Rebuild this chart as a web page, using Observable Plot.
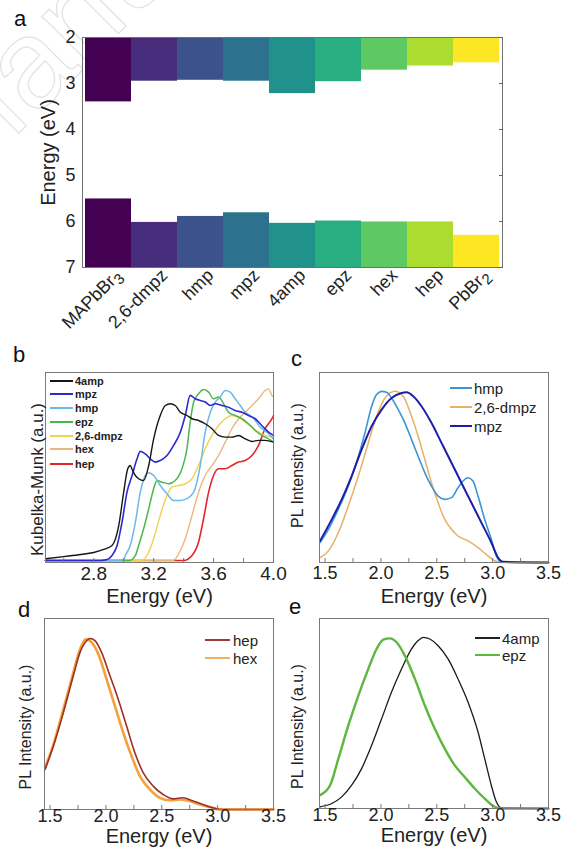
<!DOCTYPE html>
<html><head><meta charset="utf-8">
<script src="https://cdn.jsdelivr.net/npm/d3@7"></script>
<script src="https://cdn.jsdelivr.net/npm/@observablehq/plot@0.6"></script>
<style>
body{margin:0;background:#fff;font-family:Arial,"Liberation Sans",sans-serif;}
#root{position:relative;width:561px;height:853px;overflow:hidden;background:#fff;}
.pl{position:absolute;}
.lab{position:absolute;font-size:22px;color:#111;line-height:1;}
.row{position:absolute;white-space:nowrap;display:flex;align-items:center;color:#222;line-height:1;}
</style></head><body><div id="root"></div><script>
// ---------- Panel a: band edges ----------
const categories = ["MAPbBr₃","2,6-dmpz","hmp","mpz","4amp","epz","hex","hep","PbBr₂"];
const cbm = [3.40,2.95,2.93,2.95,3.22,2.96,2.71,2.62,2.55];
const vbm = [5.51,6.02,5.89,5.81,6.04,5.99,6.01,6.01,6.30];
const energyTicks = [2,3,4,5,6,7];

// ---------- Panel b: Kubelka-Munk (normalised a.u.) [eV, value] ----------
const km4amp = [[2.478,1.0],[2.6,2.2],[2.7,3.3],[2.8,4.6],[2.867,6.4],[2.922,8.7],[2.967,20.3],[3.0,39.7],[3.027,53.3],[3.044,55.2],[3.056,53.0],[3.078,49.4],[3.1,47.5],[3.133,46.5],[3.167,55.2],[3.2,70.7],[3.244,84.3],[3.278,90.1],[3.311,91.1],[3.344,90.1],[3.378,86.2],[3.422,84.3],[3.456,82.4],[3.5,81.4],[3.544,79.5],[3.589,76.6],[3.633,72.7],[3.678,71.7],[3.722,71.7],[3.767,72.7],[3.811,70.7],[3.856,69.2],[3.9,69.8],[3.944,69.8],[4.0,68.8]];
const kmMpz = [[2.478,0],[2.85,0],[2.889,0.5],[2.922,2.9],[2.956,8.7],[2.989,22.3],[3.022,39.7],[3.056,49.4],[3.089,59.1],[3.111,63.4],[3.144,62.0],[3.178,59.1],[3.211,57.2],[3.244,58.1],[3.289,61.0],[3.333,66.9],[3.378,74.6],[3.411,84.3],[3.444,96.0],[3.478,94.0],[3.511,93.0],[3.544,92.1],[3.578,90.1],[3.611,91.1],[3.656,90.1],[3.7,89.1],[3.744,87.2],[3.789,86.2],[3.833,84.3],[3.878,82.4],[3.922,78.5],[3.967,74.6],[4.0,72.7]];
const kmHmp = [[2.478,0],[2.95,0],[3.0,0.5],[3.011,2.9],[3.044,8.7],[3.078,22.3],[3.111,39.7],[3.144,49.4],[3.167,51.0],[3.2,49.4],[3.244,43.6],[3.289,38.8],[3.333,34.9],[3.378,34.9],[3.422,35.9],[3.467,39.7],[3.511,55.2],[3.544,74.6],[3.578,86.2],[3.611,92.1],[3.644,95.0],[3.678,98.8],[3.711,97.9],[3.744,94.0],[3.778,90.1],[3.811,86.2],[3.844,84.3],[3.878,81.4],[3.911,77.5],[3.956,74.6],[4.0,70.7]];
const kmEpz = [[2.478,0],[3.04,0],[3.078,2.9],[3.1,8.7],[3.133,18.4],[3.167,30.0],[3.2,41.7],[3.222,46.5],[3.256,45.5],[3.3,44.6],[3.344,46.5],[3.389,53.3],[3.422,64.9],[3.444,80.4],[3.467,92.1],[3.5,96.9],[3.533,99.4],[3.567,97.9],[3.6,94.0],[3.633,95.0],[3.667,91.1],[3.7,86.2],[3.744,84.3],[3.789,82.4],[3.833,79.5],[3.878,75.6],[3.922,72.7],[3.967,70.7],[4.0,68.8]];
const kmDmpz = [[2.478,0],[3.12,0],[3.156,2.9],[3.2,12.6],[3.244,26.2],[3.289,37.8],[3.322,42.6],[3.367,43.6],[3.411,44.6],[3.456,47.5],[3.5,55.2],[3.544,64.9],[3.589,72.7],[3.633,78.5],[3.678,82.4],[3.722,84.3],[3.767,83.3],[3.811,80.4],[3.856,77.5],[3.9,74.6],[3.944,72.7],[4.0,71.7]];
const kmHex = [[2.478,0],[3.33,0],[3.367,3.9],[3.411,12.6],[3.456,26.2],[3.5,39.7],[3.544,49.4],[3.589,55.2],[3.633,61.0],[3.678,68.8],[3.722,76.6],[3.767,82.4],[3.811,86.2],[3.856,90.1],[3.9,94.0],[3.944,98.8],[3.967,99.8],[3.989,96.0],[4.0,95.0]];
const kmHep = [[2.478,0],[3.4,0],[3.456,2.9],[3.5,10.7],[3.533,24.2],[3.567,39.7],[3.6,49.4],[3.633,53.3],[3.678,53.3],[3.722,55.2],[3.767,57.2],[3.811,58.1],[3.856,61.0],[3.9,66.9],[3.944,76.6],[3.989,82.4],[4.0,84.3]];
const kmTicks = [2.8,3.2,3.6,4.0];
const kmMinor = [2.6,2.8,3.0,3.2,3.4,3.6,3.8];

// ---------- Panels c-e: PL (normalised a.u.) [eV, value] ----------
const plHmp = [[1.455,11.7],[1.53,19.4],[1.619,31.1],[1.708,44.7],[1.798,62.1],[1.857,75.7],[1.917,91.3],[1.961,98.1],[2.006,100],[2.051,99.4],[2.095,96.1],[2.155,89.3],[2.214,81.6],[2.274,71.8],[2.333,62.1],[2.393,52.4],[2.452,44.7],[2.512,38.8],[2.571,36.9],[2.631,37.9],[2.69,43.7],[2.735,47.6],[2.78,49.5],[2.824,47.6],[2.869,38.8],[2.929,25.2],[2.988,13.6],[3.033,3.9],[3.077,0.4],[3.196,0],[3.5,0]];
const plMpz = [[1.455,12.6],[1.56,25.2],[1.649,36.9],[1.738,50.5],[1.827,66.0],[1.917,79.6],[2.006,89.3],[2.095,96.1],[2.185,99.0],[2.229,99.4],[2.289,97.1],[2.363,91.3],[2.452,81.6],[2.542,69.9],[2.631,58.3],[2.72,46.6],[2.81,34.9],[2.899,23.3],[2.988,11.7],[3.048,2.9],[3.092,0.4],[3.5,0]];
const plDmpz = [[1.455,2.9],[1.53,6.8],[1.619,17.5],[1.708,33.0],[1.798,50.5],[1.887,69.9],[1.961,85.4],[2.036,96.1],[2.125,100],[2.199,97.1],[2.274,85.4],[2.333,73.8],[2.393,60.2],[2.452,46.6],[2.512,34.9],[2.571,25.2],[2.631,19.4],[2.69,15.5],[2.78,12.6],[2.869,8.7],[2.958,3.9],[3.018,1.0],[3.077,0],[3.5,0]];
const plHep = [[1.455,23.3],[1.53,36.9],[1.619,56.3],[1.708,77.7],[1.768,91.3],[1.827,98.1],[1.857,99.4],[1.902,98.1],[1.961,91.3],[2.036,77.7],[2.11,64.1],[2.185,48.5],[2.259,33.0],[2.333,21.4],[2.423,13.6],[2.512,8.7],[2.601,6.2],[2.69,6.8],[2.78,4.9],[2.869,2.9],[2.958,1.0],[3.033,0],[3.5,0]];
const plHex = [[1.455,24.3],[1.53,37.9],[1.619,58.3],[1.708,79.6],[1.768,93.2],[1.821,99.0],[1.872,97.1],[1.932,90.3],[2.006,75.7],[2.08,60.2],[2.155,44.7],[2.229,31.1],[2.304,19.4],[2.393,11.7],[2.482,6.8],[2.571,5.4],[2.661,5.8],[2.75,4.9],[2.839,2.9],[2.929,1.4],[3.018,0],[3.5,0]];
const pl4amp = [[1.455,1.0],[1.56,2.9],[1.649,6.8],[1.738,13.6],[1.827,23.3],[1.917,36.9],[2.006,52.4],[2.095,68.0],[2.185,81.6],[2.274,93.2],[2.333,98.1],[2.378,100],[2.438,99.0],[2.512,95.1],[2.601,87.4],[2.69,75.7],[2.78,62.1],[2.869,44.7],[2.929,29.1],[2.988,13.6],[3.033,3.9],[3.077,0.4],[3.5,0]];
const plEpz = [[1.455,7.8],[1.545,13.6],[1.619,29.1],[1.708,48.5],[1.798,66.0],[1.887,81.6],[1.961,93.2],[2.021,98.6],[2.08,99.4],[2.14,97.1],[2.214,89.3],[2.304,75.7],[2.393,60.2],[2.482,46.6],[2.571,35.0],[2.661,25.2],[2.75,18.4],[2.839,11.7],[2.929,5.8],[3.018,1.0],[3.077,0],[3.5,0]];
const plTicks = [1.5,2.0,2.5,3.0,3.5];
const plMinor = [1.5,1.75,2.0,2.25,2.5,2.75,3.0,3.25];

// ---------- build ----------
const root = document.getElementById("root");
const FONT = "Arial, 'Liberation Sans', sans-serif";
const ns="http://www.w3.org/2000/svg";

// faint watermark (behind the plots)
const wm=document.createElementNS(ns,"svg"); wm.setAttribute("width",561); wm.setAttribute("height",853);
wm.style.position="absolute"; wm.style.left="0"; wm.style.top="0";
const wt=document.createElementNS(ns,"text"); wt.textContent="Manuscript";
wt.setAttribute("transform","translate(-40,192) rotate(-45)"); wt.setAttribute("font-size","125");
wt.setAttribute("font-family",FONT); wt.setAttribute("fill","none"); wt.setAttribute("stroke","#e2e2e2"); wt.setAttribute("stroke-width","1.2");
wm.appendChild(wt); root.appendChild(wm);

function place(node, left, top){ node.classList.add("pl"); node.style.left = left+"px"; node.style.top = top+"px"; root.appendChild(node); }
function label(t, left, top){ const d=document.createElement("div"); d.className="lab"; d.style.left=left+"px"; d.style.top=top+"px"; d.textContent=t; root.appendChild(d); }
function legend(items, {lineLeft, lineW, gap, ys, fontSize, fontWeight=400, lineH=2}){
  items.forEach((it,i)=>{
    const r=document.createElement("div"); r.className="row";
    r.style.left=lineLeft+"px"; r.style.top=(ys[i]-fontSize/2)+"px"; r.style.height=fontSize+"px";
    r.style.fontSize=fontSize+"px"; r.style.fontWeight=fontWeight;
    const ln=document.createElement("span"); ln.style.display="inline-block"; ln.style.width=lineW+"px"; ln.style.borderTop=lineH+"px solid "+it.color;
    const tx=document.createElement("span"); tx.textContent=it.name; tx.style.marginLeft=gap+"px";
    r.appendChild(ln); r.appendChild(tx); root.appendChild(r);
  });
}
const line = (data, color, w) => Plot.lineY(data, {x: d=>d[0], y: d=>d[1], stroke: color, strokeWidth: w, curve: "monotone-x"});
const baseStyle = {fontFamily: FONT, background: "transparent", color: "#222", overflow: "visible"};

// Panel a
const bandRows = categories.map((c,i)=>({cat:c, cbm:cbm[i], vbm:vbm[i]}));
const eMin = energyTicks[0], eMax = energyTicks[energyTicks.length-1];
const plotA = Plot.plot({
  width:561, height:330, marginLeft:82, marginRight:59, marginTop:37, marginBottom:63,
  style: baseStyle,
  x:{domain:categories, padding:0, axis:null},
  y:{domain:[eMin,eMax], reverse:true, axis:null},
  color:{domain:categories, scheme:"viridis"},
  marks:[
    Plot.barY(bandRows, {x:"cat", y1:eMin, y2:"cbm", fill:"cat"}),
    Plot.barY(bandRows, {x:"cat", y1:"vbm", y2:eMax, fill:"cat"}),
    Plot.frame({stroke:"#6f6f6f"}),
    Plot.axisY({ticks:energyTicks, tickSize:0, tickPadding:7, fontSize:18, tickFormat:d=>String(d), label:null}),
    Plot.axisY({anchor:"right", ticks:energyTicks, tickSize:4, dx:-4, tickFormat:()=>"", label:null, stroke:"#666"}),
    Plot.text(bandRows, {x:"cat", text:"cat", frameAnchor:"bottom", rotate:-45, textAnchor:"end", dx:14, dy:9, fontSize:18, fill:"#222"}),
    Plot.text(["Energy (eV)"], {text:d=>d, frameAnchor:"left", textAnchor:"middle", rotate:-90, dx:-34, fontSize:20, fill:"#222"})
  ]
});
// render subscript digits as lowered real digits
const subMap = {"₂":"2","₃":"3"};
plotA.querySelectorAll("text").forEach(t=>{
  const s=t.textContent; const m=s.match(/^(.*?)([₂₃])$/);
  if(m && t.children.length===0){
    t.textContent=m[1];
    const sp=document.createElementNS(ns,"tspan"); sp.setAttribute("dy","0.3em"); sp.setAttribute("font-size","15"); sp.textContent=subMap[m[2]];
    t.appendChild(sp);
  }
});
place(plotA, 0, 0);

// Panel b
const plotB = Plot.plot({
  width:290, height:270, marginLeft:45, marginRight:17, marginTop:32, marginBottom:48,
  style: baseStyle,
  x:{domain:[2.478,4.0]}, y:{domain:[-1.2,109.3], axis:null},
  marks:[
    line(kmHep,"#e2262a",1.6), line(kmHex,"#e9b77c",1.4), line(kmDmpz,"#f3cf52",1.4),
    line(kmEpz,"#4db64a",1.5), line(kmHmp,"#6db8ea",1.5), line(kmMpz,"#2b2bcf",1.6), line(km4amp,"#151515",1.4),
    Plot.frame({stroke:"#7a7a7a"}),
    Plot.axisX({ticks:kmTicks, tickSize:0, tickPadding:4, fontSize:19, tickFormat:d=>d.toFixed(1), label:null}),
    Plot.axisX({ticks:kmMinor, tickSize:4, dy:-4, tickFormat:()=>"", label:null, stroke:"#777"}),
    Plot.text(["Energy (eV)"], {text:d=>d, frameAnchor:"bottom", dy:40, fontSize:20, fill:"#222"}),
    Plot.text(["Kubelka-Munk (a.u.)"], {text:d=>d, frameAnchor:"left", textAnchor:"middle", rotate:-90, dx:-8, dy:12, fontSize:17, fill:"#222"})
  ]
});
place(plotB, 0, 340);

function plPanel(series, left, top, height, marginTop, marginBottom, tickPad, xLabDy, yLabDy){
  const p = Plot.plot({
    width: left===0 ? 290 : 271, height, marginLeft: left===0 ? 44 : 29, marginRight: left===0 ? 17 : 13,
    marginTop, marginBottom, style: baseStyle,
    x:{domain:[1.45,3.5]}, y:{domain:[0,111], axis:null},
    marks:[
      ...series,
      Plot.frame({stroke:"#7a7a7a"}),
      Plot.axisX({ticks:plTicks, tickSize:0, tickPadding:tickPad, fontSize:18, tickFormat:d=>d.toFixed(1), label:null}),
      Plot.axisX({ticks:plMinor, tickSize:4, dy:-4, tickFormat:()=>"", label:null, stroke:"#777"}),
      Plot.text(["Energy (eV)"], {text:d=>d, frameAnchor:"bottom", dy:xLabDy, fontSize:20, fill:"#222"}),
      Plot.text(["PL Intensity (a.u.)"], {text:d=>d, frameAnchor:"left", textAnchor:"middle", rotate:-90, dx: left===0 ? -19 : -22, dy:yLabDy, fontSize:16, fill:"#222"})
    ]
  });
  place(p, left, top);
}
// Panel c
plPanel([line(plDmpz,"#e6b066",1.5), line(plHmp,"#3a95d5",1.6), line(plMpz,"#1e1eaa",2.0)], 290, 340, 270, 32, 48, 4, 40, -2);
// Panel d
plPanel([line(plHex,"#f4a13c",2.6), line(plHep,"#9c2f2a",1.6)], 0, 600, 253, 18, 44, 0, 33, 13);
// Panel e
plPanel([line(pl4amp,"#1a1a1a",1.3), line(plEpz,"#5cb83c",2.4)], 290, 600, 253, 18, 45, 0, 33, 13);

// legends
legend([{name:"4amp",color:"#151515"},{name:"mpz",color:"#2b2bcf"},{name:"hmp",color:"#6db8ea"},{name:"epz",color:"#4db64a"},{name:"2,6-dmpz",color:"#f3cf52"},{name:"hex",color:"#e9b77c"},{name:"hep",color:"#e2262a"}],
  {lineLeft:50, lineW:23, gap:2, ys:[381,394,408,422,436,449,464], fontSize:11, fontWeight:700, lineH:2.5});
legend([{name:"hmp",color:"#3a95d5"},{name:"2,6-dmpz",color:"#e6b066"},{name:"mpz",color:"#1e1eaa"}],
  {lineLeft:450, lineW:22, gap:2, ys:[388,407,426], fontSize:15, lineH:2});
legend([{name:"hep",color:"#9a3a3a"},{name:"hex",color:"#f0b060"}],
  {lineLeft:205, lineW:25, gap:3, ys:[640,658], fontSize:15, lineH:2.5});
legend([{name:"4amp",color:"#222"},{name:"epz",color:"#5cb83c"}],
  {lineLeft:475, lineW:25, gap:2, ys:[638,655], fontSize:15, lineH:2});

// panel letters
label("a", 14, 8); label("b", 13, 344); label("c", 291, 348); label("d", 18, 599); label("e", 289, 596);
</script></body></html>
